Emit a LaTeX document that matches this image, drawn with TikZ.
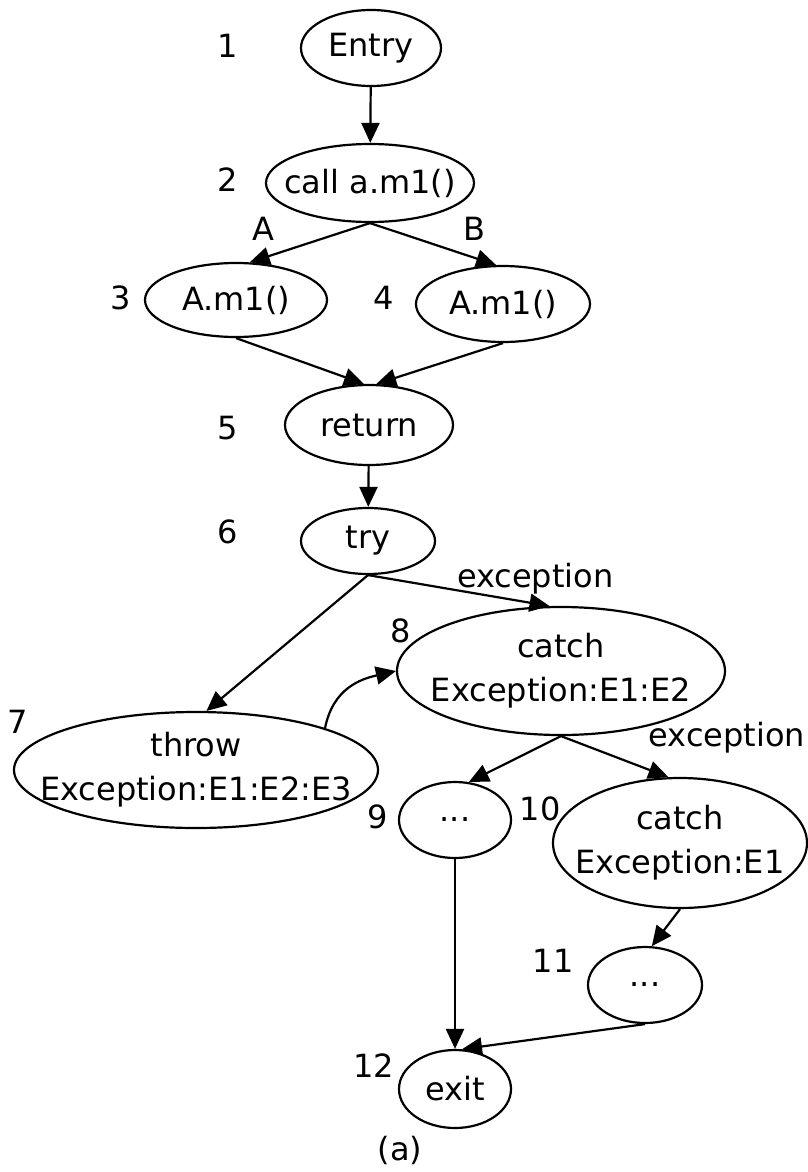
\documentclass[tikz,border=0pt]{standalone}
\usepackage{fontspec}
\setmainfont{DejaVu Sans}
\usetikzlibrary{arrows.meta}
\usetikzlibrary{shapes.geometric}
% line of zero width, so that the ellipse keeps its given size
\newcommand*{\zw}[1]{\makebox[0pt]{#1}}

\begin{document}
\begin{tikzpicture}[x=1pt, y=-1pt, font=\fontsize{32}{44}\selectfont,
		stmt/.style = {draw, ellipse, line width=2.2pt, inner sep=0pt, align=center},
		num/.style = {inner sep=0pt},
		flow/.style = {line width=2.2pt, -{Triangle[length=20pt,width=18pt]}}]
		\useasboundingbox (0,0) rectangle (807,1172);
		% statements
		\node[stmt, minimum width=140pt, minimum height=76pt] (entry) at (371,48) {\zw{Entry}};
		\node[stmt, minimum width=208pt, minimum height=78pt] (call) at (370,183) {\zw{call a.m1()}};
		\node[stmt, minimum width=182pt, minimum height=74pt] (m1a) at (236,300) {\zw{A.m1()}};
		\node[stmt, minimum width=174pt, minimum height=76pt] (m1b) at (503,304) {\zw{A.m1()}};
		\node[stmt, minimum width=168pt, minimum height=80pt] (ret) at (369,425) {\zw{return}};
		\node[stmt, minimum width=134pt, minimum height=66pt] (try) at (368,541) {\zw{try}};
		\node[stmt, minimum width=364pt, minimum height=116pt] (thr) at (196,770)
			{\zw{throw}\\\zw{Exception:E1:E2:E3}};
		\node[stmt, minimum width=328pt, minimum height=128pt] (catA) at (561,671)
			{\zw{catch}\\\zw{Exception:E1:E2}};
		\node[stmt, minimum width=112pt, minimum height=76pt] (dotsA) at (455,820) {\zw{...}};
		\node[stmt, minimum width=254pt, minimum height=130pt] (catB) at (680,843)
			{\zw{catch}\\\zw{Exception:E1}};
		\node[stmt, minimum width=114pt, minimum height=76pt] (dotsB) at (645,985) {\zw{...}};
		\node[stmt, minimum width=112pt, minimum height=78pt] (exit) at (455,1089) {\zw{exit}};
		% statement numbers
		\node[num] (l1) at (228,46) {1};
		\node[num] (l2) at (228,180) {2};
		\node[num] (l3) at (121,298) {3};
		\node[num] (l4) at (384,298) {4};
		\node[num] (l5) at (228,428) {5};
		\node[num] (l6) at (228,532) {6};
		\node[num] (l7) at (18,722) {7};
		\node[num] (l8) at (401,631) {8};
		\node[num] (l9) at (378,817) {9};
		\node[num] (l10) at (540,809) {10};
		\node[num] (l11) at (553,961) {11};
		\node[num] (l12) at (374,1066) {12};
		\node[num] (cap) at (400,1150) {(a)};
		% control flow
		\draw[flow] (entry) -- (call);
		\draw[flow] (call.south) -- (m1a.70)
			node[num, pos=0.85, anchor=south, xshift=-4pt, yshift=15pt] (ea) {A};
		\draw[flow] (call.south) -- (m1b.100)
			node[num, pos=0.85, anchor=south, xshift=-3pt, yshift=17pt] (eb) {B};
		\draw[flow] (m1a.south) -- (ret.97);
		\draw[flow] (m1b.south) -- (ret.80);
		\draw[flow] (ret) -- (try);
		\draw[flow] (try.south) -- (thr.80);
		\draw[flow] (try.south) -- (catA.100)
			node[num, pos=0.9, anchor=south, xshift=4pt, yshift=8pt] (ex1) {exception};
		\draw[flow] (thr.18) .. controls +(8,-40) and +(-35,8) .. (catA.west);
		\draw[flow] (catA.south) -- (dotsA.70);
		\draw[flow] (catA.south) -- (catB.100)
			node[num, pos=0.9, anchor=south west, xshift=-10pt, yshift=19pt] (ex2) {exception};
		\draw[flow] (catB.south) -- (dotsB.80);
		\draw[flow] (dotsA) -- (exit);
		\draw[flow] (dotsB.south) -- (exit.80);
\end{tikzpicture}
\end{document}
